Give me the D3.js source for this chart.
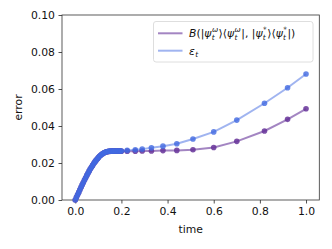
<!DOCTYPE html>
<html>
<head>
<meta charset="utf-8">
<script src="https://cdn.jsdelivr.net/npm/d3@7"></script>
<style>
	html, body { margin: 0; padding: 0; background: #fff; }
	svg { display: block; font-family: 'DejaVu Sans', sans-serif; }
</style>
</head>
<body>
<svg id="chart" width="332" height="249"></svg>
<script>
// time samples (dense at the start, sparse later)
const times = [
	0, 0.005, 0.01, 0.015, 0.02, 0.025, 0.03, 0.035, 0.04, 0.045,
	0.05, 0.055, 0.06, 0.065, 0.07, 0.075, 0.08, 0.085, 0.09, 0.095,
	0.1, 0.105, 0.11, 0.115, 0.12, 0.125, 0.13, 0.135, 0.14, 0.145,
	0.15, 0.155, 0.16, 0.165, 0.17, 0.175, 0.18, 0.185, 0.19, 0.195,
	0.2, 0.225, 0.26, 0.29, 0.33, 0.38, 0.44, 0.51, 0.6, 0.7, 0.82, 0.92, 1.0
];
// B(|psi_w><psi_w|, |psi*><psi*|)
const bValues = [
	0, 0.0014, 0.0028, 0.0041, 0.0055, 0.0069, 0.0082, 0.0095, 0.0108, 0.0120,
	0.0133, 0.0144, 0.0156, 0.0167, 0.0177, 0.0187, 0.0197, 0.0206, 0.0214, 0.0222,
	0.0229, 0.0236, 0.0242, 0.0247, 0.0251, 0.0255, 0.0258, 0.0260, 0.0262, 0.0263,
	0.0263, 0.0264, 0.0264, 0.0264, 0.0264, 0.0264, 0.0264, 0.0264, 0.0264, 0.0264,
	0.0264, 0.0264, 0.0264, 0.0265, 0.0265, 0.0267, 0.0268, 0.0272, 0.0284, 0.0317, 0.0373, 0.0436, 0.0493
];
// epsilon_t
const epsValues = [
	0, 0.0014, 0.0028, 0.0041, 0.0055, 0.0069, 0.0082, 0.0095, 0.0108, 0.0120,
	0.0133, 0.0144, 0.0156, 0.0167, 0.0177, 0.0187, 0.0197, 0.0206, 0.0214, 0.0222,
	0.0229, 0.0236, 0.0242, 0.0247, 0.0251, 0.0255, 0.0258, 0.0261, 0.0262, 0.0263,
	0.0264, 0.0264, 0.0265, 0.0265, 0.0265, 0.0265, 0.0265, 0.0265, 0.0265, 0.0265,
	0.0265, 0.0268, 0.0271, 0.0275, 0.0282, 0.0291, 0.0304, 0.0330, 0.0368, 0.0432, 0.0523, 0.0607, 0.0681
];
const xTicks = [0, 0.2, 0.4, 0.6, 0.8, 1.0];
const yTicks = [0, 0.02, 0.04, 0.06, 0.08, 0.10];

const series = [
	{ name: 'B', values: bValues, color: '#663399', lineAlpha: 0.6, dotAlpha: 0.85 },
	{ name: 'eps', values: epsValues, color: '#4169e1', lineAlpha: 0.5, dotAlpha: 0.8 },
];

const svg = d3.select('svg#chart');
const plot = { left: 62, right: 319.3, top: 15, bottom: 200 };

const x = d3.scaleLinear([-0.0575, 1.0575], [plot.left, plot.right]);
const y = d3.scaleLinear([0, 0.1], [plot.bottom, plot.top]);

const fontSize = 10.8;

// axes
const xAxis = svg.append('g')
	.attr('transform', `translate(0, ${plot.bottom})`)
	.call(d3.axisBottom(x).tickValues(xTicks).tickFormat(d3.format('.1f')).tickSize(3.5).tickPadding(3.5));
const yAxis = svg.append('g')
	.attr('transform', `translate(${plot.left}, 0)`)
	.call(d3.axisLeft(y).tickValues(yTicks).tickFormat(d3.format('.2f')).tickSize(3.5).tickPadding(3.5));
[xAxis, yAxis].forEach(a => {
	a.select('.domain').remove();
	a.selectAll('.tick line').attr('stroke', '#222').attr('stroke-width', 0.8);
	a.selectAll('.tick text').attr('fill', '#111').style('font-size', fontSize + 'px').style('font-family', 'DejaVu Sans');
});

// frame
svg.append('rect')
	.attr('x', plot.left).attr('y', plot.top)
	.attr('width', plot.right - plot.left).attr('height', plot.bottom - plot.top)
	.attr('fill', 'none').attr('stroke', '#333').attr('stroke-width', 0.8);

// axis labels
svg.append('text')
	.attr('x', (plot.left + plot.right) / 2).attr('y', 233)
	.attr('text-anchor', 'middle').attr('fill', '#111')
	.style('font-size', fontSize + 'px')
	.text('time');
svg.append('text')
	.attr('transform', `translate(22, ${(plot.top + plot.bottom) / 2}) rotate(-90)`)
	.attr('text-anchor', 'middle').attr('fill', '#111')
	.style('font-size', fontSize + 'px')
	.text('error');

// series
const line = d3.line()
	.x((d, i) => x(times[i]))
	.y(d => y(d));

const groups = svg.selectAll('g.series')
	.data(series)
	.join('g')
	.attr('class', 'series');
groups.append('path')
	.attr('d', d => line(d.values))
	.attr('fill', 'none')
	.attr('stroke', d => d.color)
	.attr('stroke-opacity', d => d.lineAlpha)
	.attr('stroke-width', 2);
groups.selectAll('circle')
	.data(d => d.values.map((v, i) => ({ v, t: times[i], s: d })))
	.join('circle')
	.attr('cx', d => x(d.t))
	.attr('cy', d => y(d.v))
	.attr('r', 2.8)
	.attr('fill', d => d.s.color)
	.attr('fill-opacity', d => d.s.dotAlpha);

// legend
const legend = svg.append('g');
legend.append('rect')
	.attr('x', 153.5).attr('y', 21.5).attr('width', 159.5).attr('height', 40.5)
	.attr('rx', 2.5)
	.attr('fill', '#fff').attr('fill-opacity', 0.8)
	.attr('stroke', '#d6d6d6').attr('stroke-width', 0.8);

const rowY = [33.3, 50.7];
series.forEach((s, i) => {
	legend.append('line')
		.attr('x1', 158).attr('x2', 182.5)
		.attr('y1', rowY[i]).attr('y2', rowY[i])
		.attr('stroke', s.color).attr('stroke-opacity', s.lineAlpha)
		.attr('stroke-width', 2);
});

// tiny math-text layout: pieces placed left to right
function mathText (g, pieces, x0, baseline, size) {
	let cx = x0;
	const small = size * 0.68;
	const put = (s, px, py, fs, italic) => {
		const t = g.append('text')
			.attr('x', px).attr('y', py)
			.attr('fill', '#111')
			.style('font-size', fs + 'px')
			.style('font-style', italic ? 'italic' : 'normal')
			.text(s);
		return t.node().getComputedTextLength();
	};
	pieces.forEach(p => {
		if (typeof p === 'string') {
			cx += put(p, cx, baseline, size, false);
		} else {
			cx += put(p.b, cx, baseline, size, p.i);
			let w = 0;
			if (p.sup) w = Math.max(w, put(p.sup, cx + 0.5, baseline - size * 0.46, small, p.supI !== false));
			if (p.sub) w = Math.max(w, put(p.sub, cx + 0.3, baseline + size * 0.24, small, true));
			cx += w + (p.sup || p.sub ? 1 : 0);
		}
	});
}

const psiW = { b: 'ψ', i: true, sup: 'ω', sub: 't' };
const psiS = { b: 'ψ', i: true, sup: '*', sub: 't', supI: false };
mathText(legend, [
	{ b: 'B', i: true }, '(|', psiW, '⟩⟨', psiW, '|, |', psiS, '⟩⟨', psiS, '|)'
], 189, rowY[0] + 3.8, fontSize);
mathText(legend, [
	{ b: 'ε', i: true, sub: 't' }
], 189, rowY[1] + 3.8, fontSize);
</script>
</body>
</html>
